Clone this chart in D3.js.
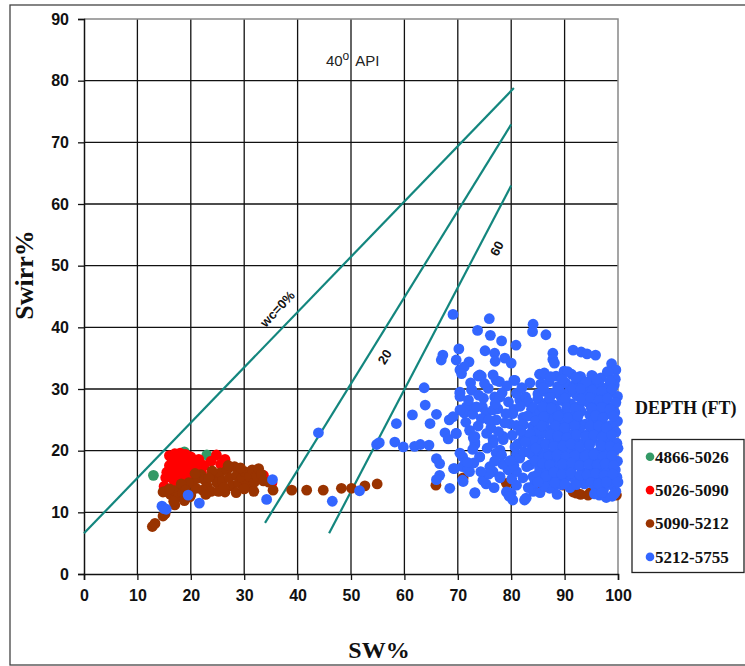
<!DOCTYPE html>
<html>
<head>
<meta charset="utf-8">
<script src="https://cdn.jsdelivr.net/npm/d3@7"></script>
<style>
  body { margin: 0; background: #fff; }
  svg { display: block; }
</style>
</head>
<body>
<div id="chart"></div>
<script>

// depth groups and colours
var groupNames = ["4866-5026", "5026-5090", "5090-5212", "5212-5755"];
var groupColors = ["#339966", "#ff0000", "#993300", "#3366ff"];

var xTicks = [0, 10, 20, 30, 40, 50, 60, 70, 80, 90, 100];
var yTicks = [0, 10, 20, 30, 40, 50, 60, 70, 80, 90];

// water-cut lines, [SW, Swirr]
var wc0Line = [[0, 6.6], [80.5, 78.8]];
var wc20Line = [[33.9, 8.3], [80, 72.9]];
var wc60Line = [[45.9, 6.6], [80, 63.0]];

// 4866-5026
var green = [[13.0, 16.0], [23.0, 19.3], [18.8, 19.8]];

// 5026-5090
var red = [
  [16.0, 19.2], [17.0, 19.5], [18.0, 19.6], [19.0, 19.4], [20.0, 19.0], [16.5, 18.5], [17.5, 18.2],
  [18.5, 18.6], [19.5, 18.3], [20.5, 18.0], [21.5, 17.5], [16.0, 17.6], [17.0, 17.2], [18.0, 17.4],
  [19.0, 17.0], [20.0, 17.2], [21.0, 16.8], [22.0, 16.5], [15.5, 16.5], [16.5, 16.2], [17.5, 16.0],
  [18.5, 15.8], [19.5, 16.1], [15.3, 15.6], [16.8, 15.2], [18.0, 14.8], [19.2, 15.0], [15.0, 14.2],
  [16.0, 13.8], [21.5, 18.6], [22.5, 17.6], [23.8, 18.3], [24.8, 19.3], [26.4, 18.6], [25.6, 17.8],
  [35.2, 14.8], [33.6, 16.0], [17.2, 14.5], [20.6, 15.4]
];

// 5090-5212
var brown = [
  [12.8, 7.7], [13.3, 8.2], [14.8, 9.4], [15.2, 9.8], [17.0, 11.2], [18.6, 12.3], [14.8, 13.3],
  [17.3, 13.3], [15.3, 13.4], [16.2, 12.9], [17.0, 13.5], [17.8, 12.6], [18.5, 13.2], [16.8, 11.8],
  [18.8, 11.9], [19.8, 12.5], [20.3, 14.8], [21.2, 15.5], [21.9, 16.1], [22.6, 15.2], [23.1, 14.2],
  [23.8, 13.4], [22.2, 13.6], [21.0, 13.9], [24.3, 15.9], [24.9, 14.8], [25.5, 16.4], [25.9, 15.1],
  [26.4, 13.3], [26.8, 16.9], [27.2, 15.6], [27.7, 14.3], [28.2, 17.4], [28.6, 16.0], [29.0, 14.8],
  [28.5, 13.2], [29.6, 15.6], [30.1, 16.6], [30.5, 14.4], [31.0, 15.8], [31.5, 16.9], [31.9, 14.9],
  [32.3, 15.9], [32.7, 17.1], [33.2, 16.2], [33.6, 15.1], [31.8, 13.4], [30.0, 13.8], [24.0, 16.7],
  [23.4, 15.6], [20.8, 16.3], [19.6, 14.8], [20.0, 12.8], [34.6, 14.9], [35.4, 13.6], [22.8, 12.9],
  [25.2, 13.4], [27.0, 17.6], [29.3, 17.2], [26.2, 14.0], [18.2, 14.6], [16.0, 13.8], [19.0, 13.6],
  [38.9, 13.6], [41.7, 13.6], [44.8, 13.6], [48.2, 13.9], [50.1, 13.9], [52.6, 14.3], [54.9, 14.6],
  [65.9, 14.4], [71.0, 15.6], [79.1, 14.7], [84.9, 14.4], [86.3, 14.2], [89.7, 14.4], [91.6, 13.3],
  [92.2, 13.1], [93.0, 12.9], [94.4, 12.8], [94.8, 13.2], [99.7, 12.8]
];

// 5212-5755
var blue = [
  // left and scattered points
  [14.6, 11.0], [15.0, 10.6], [15.4, 10.5], [19.5, 12.8], [21.6, 11.5], [34.2, 12.1], [35.3, 15.3],
  [43.9, 22.9], [46.5, 11.8], [51.6, 13.5], [54.8, 21.0], [55.3, 21.3],
  // upper scatter
  [69.1, 42.1], [75.9, 41.4], [84.1, 40.5], [84.0, 39.3], [86.5, 38.8], [73.7, 39.5], [76.1, 38.7],
  [78.2, 37.8], [80.9, 37.1], [70.2, 36.5], [75.1, 36.2], [76.9, 35.8], [67.2, 35.5], [66.9, 34.7],
  [69.7, 34.7], [72.1, 34.4], [77.0, 34.5], [78.8, 35.0], [80.0, 34.2], [87.8, 35.8], [87.8, 34.8],
  [88.1, 34.2], [91.6, 36.3], [93.1, 36.0], [94.2, 35.7], [95.8, 35.5], [98.8, 34.1], [99.6, 33.1],
  [98.0, 32.8], [70.4, 33.1], [71.2, 33.6], [73.8, 32.1], [74.4, 32.1], [77.2, 31.4], [77.8, 31.2],
  [80.5, 31.4], [83.5, 31.0], [85.3, 32.4], [87.2, 31.9], [63.7, 30.2], [70.4, 29.5], [72.6, 29.9],
  [75.7, 30.1], [70.4, 28.8], [76.9, 28.7], [63.9, 27.4], [61.5, 25.8], [58.5, 24.4], [66.0, 25.9],
  [64.8, 24.4], [68.4, 25.0], [71.6, 27.1], [73.1, 27.0], [74.6, 27.1], [77.5, 26.8], [71.2, 26.1],
  [72.8, 25.9], [75.3, 26.2], [79.7, 24.4], [80.5, 26.7], [81.6, 28.2], [82.7, 28.7], [83.8, 26.7],
  [85.0, 29.2], [67.6, 22.9], [69.7, 22.8], [68.2, 21.9], [58.2, 21.4], [59.8, 20.6], [61.9, 20.7],
  [63.0, 21.0], [64.6, 20.9], [73.2, 22.3], [73.2, 21.0], [76.6, 21.8], [77.9, 20.1], [74.1, 19.0],
  [70.9, 19.0], [66.0, 18.7], [66.6, 17.9], [70.9, 17.4], [72.2, 16.6], [69.2, 17.1], [66.6, 16.0],
  [66.0, 15.3], [68.5, 13.9], [73.2, 13.2], [70.9, 15.2], [75.3, 14.6], [76.6, 16.6], [77.9, 15.6],
  [79.1, 13.3], [80.3, 12.0], [82.5, 12.0], [84.1, 13.4], [81.0, 16.6], [83.5, 17.7], [85.8, 16.6],
  [85.2, 19.4], [81.0, 19.4], [78.5, 21.8], [82.7, 21.8], [85.2, 22.3], [87.6, 23.5],
  // middle band 70-85
  [70.7, 32.5], [74.1, 32.3], [76.6, 32.3], [80.7, 31.4], [85.7, 32.3], [70.4, 29.3], [72.6, 29.8],
  [77.9, 28.7], [81.0, 29.3], [83.2, 27.9], [70.4, 26.6], [73.5, 27.1], [76.6, 26.6], [74.4, 25.2],
  [77.2, 25.0], [80.3, 26.0], [81.0, 24.1], [84.1, 25.5], [69.1, 25.5], [69.7, 22.8], [72.2, 23.3],
  [75.4, 22.8], [78.5, 22.3], [73.2, 21.4], [76.6, 21.2], [80.7, 20.6], [83.5, 21.2], [70.4, 19.6],
  [74.1, 19.0], [77.2, 19.6], [81.6, 18.8], [84.7, 18.5], [69.4, 17.1], [71.9, 16.9], [76.0, 17.4],
  [79.4, 16.9], [82.9, 17.4], [86.0, 16.9], [71.0, 15.0], [74.7, 15.2], [77.9, 15.8], [81.0, 14.4],
  [84.4, 14.7], [73.2, 13.1], [80.0, 13.1], [82.8, 12.3], [87.2, 13.9], [88.5, 15.2], [88.6, 17.1],
  [72.0, 28.2], [74.8, 28.5], [77.0, 27.6], [79.5, 27.9], [81.7, 27.2], [71.5, 24.6], [73.8, 24.0],
  [76.2, 23.7], [78.8, 24.5], [80.2, 22.5], [82.3, 22.0], [72.8, 20.2], [75.5, 20.4], [78.2, 19.3],
  [80.5, 17.6], [83.9, 19.3], [73.0, 18.0], [75.8, 16.2], [78.4, 17.8], [82.2, 15.6], [76.8, 14.0],
  [79.6, 12.6], [72.4, 31.0], [75.0, 30.9], [79.2, 30.5], [82.0, 30.2], [78.3, 29.4], [73.9, 29.0],
  [82.2, 25.4], [79.0, 26.0], [75.8, 25.0], [72.9, 22.1], [77.6, 23.1], [81.3, 21.1], [84.0, 23.9],
  [71.8, 18.1], [76.9, 18.3], [79.8, 18.4], [82.4, 19.8], [74.3, 16.6], [80.1, 15.4], [83.2, 14.0],
  [86.8, 15.0], [85.4, 13.2],
  // dense block 84-100
  [86.2, 32.6], [88.4, 32.1], [89.9, 32.9], [91.3, 32.4], [93.0, 32.0], [95.1, 32.2], [96.8, 31.8],
  [98.2, 32.7], [99.5, 31.6], [90.6, 32.8], [92.8, 32.0], [95.3, 32.0],
  [85.5, 30.8], [87.1, 31.2], [88.7, 30.4], [90.2, 31.0], [91.8, 30.6], [93.4, 31.3], [94.9, 30.5],
  [96.4, 30.9], [97.9, 30.2], [99.3, 30.7], [86.3, 29.6],
  [87.8, 29.3], [89.3, 28.8], [90.8, 29.5], [92.3, 28.9], [93.9, 29.7], [95.6, 29.1], [97.1, 28.7],
  [98.6, 29.4], [99.9, 28.8], [85.0, 28.4],
  [86.6, 27.8], [88.1, 27.4], [89.6, 28.1], [91.2, 27.6], [92.7, 27.2], [94.3, 27.9], [95.9, 27.3],
  [97.5, 27.8], [99.0, 27.1], [84.2, 27.0],
  [85.4, 26.3], [87.0, 25.9], [88.5, 26.6], [90.0, 26.1], [91.6, 25.7], [93.1, 26.4], [94.7, 25.8],
  [96.2, 26.5], [97.8, 25.9], [99.4, 26.2], [83.0, 25.6],
  [84.6, 24.8], [86.2, 24.4], [87.7, 25.1], [89.2, 24.6], [90.8, 24.2], [92.4, 24.9], [93.9, 24.3],
  [95.5, 25.0], [97.0, 24.5], [98.6, 24.1], [99.9, 24.8], [82.3, 24.2],
  [85.0, 23.3], [86.6, 22.8], [88.1, 23.5], [89.7, 23.0], [91.3, 22.6], [92.8, 23.4], [94.4, 22.7],
  [96.0, 23.2], [97.5, 22.9], [99.1, 23.6], [83.5, 22.7], [81.8, 23.2],
  [84.2, 21.6], [85.8, 21.2], [87.3, 21.9], [88.9, 21.4], [90.5, 21.0], [92.0, 21.7], [93.6, 21.3],
  [95.2, 21.9], [96.7, 21.1], [98.3, 21.6], [99.8, 21.2], [82.6, 21.4],
  [85.1, 20.0], [86.7, 19.6], [88.2, 20.3], [89.8, 19.8], [91.4, 20.2], [93.0, 19.5], [94.6, 20.1],
  [96.1, 19.7], [97.7, 20.4], [99.3, 19.9], [83.4, 19.7],
  [84.5, 18.4], [86.0, 18.9], [87.6, 18.2], [89.1, 18.7], [90.7, 18.1], [92.3, 18.8], [93.9, 18.3],
  [95.4, 18.9], [97.0, 18.2], [98.6, 18.6], [99.9, 18.3],
  [85.3, 17.2], [86.8, 16.7], [88.4, 17.4], [90.0, 16.9], [91.6, 17.5], [93.2, 16.6], [94.7, 17.1],
  [96.3, 16.8], [97.9, 17.3], [99.5, 16.9],
  [84.1, 15.8], [85.7, 15.3], [87.2, 15.9], [88.8, 15.4], [90.4, 15.7], [92.0, 15.2], [93.5, 15.8],
  [95.1, 15.3], [96.6, 15.9], [98.2, 15.4], [99.8, 15.7],
  [86.2, 14.3], [87.9, 13.9], [89.4, 14.5], [91.0, 14.0], [93.7, 14.6], [95.8, 14.1], [97.3, 13.7],
  [98.9, 14.4], [99.6, 13.4],
  [96.5, 12.8], [97.8, 12.4], [98.9, 12.6], [95.6, 13.0], [88.6, 12.9],
  // extra fill inside the dense block
  [87.4, 32.0], [89.5, 31.6], [92.1, 31.8], [94.0, 31.1], [96.0, 31.6], [98.5, 31.3], [86.0, 30.2],
  [89.0, 29.9], [91.5, 30.0], [93.0, 30.0], [95.2, 29.8], [96.9, 29.6], [98.9, 30.0], [87.2, 28.6],
  [90.1, 28.5], [93.2, 28.4], [94.8, 28.6], [96.5, 28.2], [98.0, 28.5], [99.6, 27.8], [85.9, 27.1],
  [87.5, 26.9], [90.4, 27.0], [92.0, 26.8], [95.0, 26.9], [96.9, 27.0], [98.5, 26.7], [86.1, 25.5],
  [88.8, 25.6], [90.7, 25.3], [92.5, 25.6], [95.8, 25.7], [97.2, 25.3], [99.1, 25.6], [85.7, 24.0],
  [88.3, 24.0], [90.0, 23.7], [91.9, 24.0], [94.8, 24.0], [96.4, 24.0], [97.8, 23.7], [99.6, 23.0],
  [87.4, 22.6], [88.7, 22.4], [90.4, 22.1], [92.2, 22.6], [93.9, 22.3], [95.5, 22.5], [97.0, 22.2],
  [98.8, 22.5], [86.4, 21.0], [88.0, 20.7], [89.7, 20.8], [91.2, 21.1], [92.8, 20.6], [94.7, 21.0],
  [96.9, 20.8], [98.5, 20.7], [100, 20.4], [84.6, 20.4], [87.0, 19.1], [88.6, 19.3], [90.2, 19.0],
  [91.9, 19.2], [93.8, 19.1], [95.5, 19.4], [97.2, 19.0], [98.8, 19.2], [85.9, 17.9], [87.2, 17.7],
  [89.6, 17.8], [91.3, 18.0], [92.8, 17.6], [94.5, 17.8], [96.1, 17.7], [97.6, 17.9], [99.2, 17.6],
  [84.9, 16.1], [86.5, 15.9], [88.0, 16.5], [89.5, 16.2], [91.2, 16.4], [92.9, 16.0], [94.2, 16.1],
  [95.8, 16.3], [97.4, 16.0], [99.0, 16.2], [85.0, 14.9], [88.2, 14.8], [90.0, 14.6], [92.2, 14.5],
  [94.9, 14.8], [96.3, 14.6], [97.8, 14.9], [100, 14.9], [97.0, 13.2], [99.3, 13.0]
];

var groups = [green, red, brown, blue];

var W = 745, H = 666;
var margin = {top: 19, left: 84},
    width = 534,
    height = 555;

var svg = d3.select("#chart").append("svg")
    .attr("width", W)
    .attr("height", H)
    .style("font-family", "Arial, 'Liberation Sans', sans-serif");

// outer chart frame
svg.append("rect")
    .attr("x", 10).attr("y", 5)
    .attr("width", 745).attr("height", 660)
    .attr("fill", "#fff")
    .attr("stroke", "#444")
    .attr("stroke-width", 1.3);

var g = svg.append("g")
    .attr("transform", "translate(" + margin.left + "," + margin.top + ")");

var x = d3.scaleLinear().domain([0, 100]).range([0, width]);
var y = d3.scaleLinear().domain([0, 90]).range([height, 0]);

// grid
g.append("g").selectAll("line")
  .data(xTicks.slice(1, -1))
  .join("line")
    .attr("x1", d => x(d)).attr("x2", d => x(d))
    .attr("y1", 0).attr("y2", height)
    .attr("stroke", "#111").attr("stroke-width", 1.3);
g.append("g").selectAll("line")
  .data(yTicks.slice(1, -1))
  .join("line")
    .attr("x1", 0).attr("x2", width)
    .attr("y1", d => y(d)).attr("y2", d => y(d))
    .attr("stroke", "#111").attr("stroke-width", 1.3);

// plot border (top / right grey)
g.append("path")
    .attr("d", "M0,0H" + width + "V" + height)
    .attr("fill", "none")
    .attr("stroke", "#888")
    .attr("stroke-width", 1.5);

// axes
var xAxis = g.append("g")
    .attr("transform", "translate(0," + height + ")")
    .call(d3.axisBottom(x).tickValues(xTicks).tickSize(6).tickPadding(10));
var yAxis = g.append("g")
    .call(d3.axisLeft(y).tickValues(yTicks).tickSize(6).tickPadding(9));

[xAxis, yAxis].forEach(function(a) {
  a.select(".domain").attr("stroke", "#111").attr("stroke-width", 1.5);
  a.selectAll(".tick line").attr("stroke", "#111").attr("stroke-width", 1.3);
  a.selectAll(".tick text")
    .attr("fill", "#111")
    .style("font-size", "16px")
    .style("font-weight", "bold")
    .style("font-family", "Arial, 'Liberation Sans', sans-serif");
});

// water-cut lines
var line = d3.line().x(d => x(d[0])).y(d => y(d[1]));
[wc0Line, wc20Line, wc60Line].forEach(function(l) {
  g.append("path")
    .datum(l)
    .attr("fill", "none")
    .attr("stroke", "#13867e")
    .attr("stroke-width", 2.2)
    .attr("d", line);
});

// line labels
var lineLabels = [
  {text: "wc=0%", sw: 36.2, sr: 43.0, rot: -47},
  {text: "20", sw: 56.3, sr: 35.2, rot: -58},
  {text: "60", sw: 77.3, sr: 52.8, rot: -62}
];
g.selectAll(".wclabel")
  .data(lineLabels)
  .join("text")
    .attr("class", "wclabel")
    .attr("transform", d => "translate(" + x(d.sw) + "," + y(d.sr) + ") rotate(" + d.rot + ")")
    .attr("text-anchor", "middle")
    .attr("dy", "0.35em")
    .style("font-size", "13px")
    .style("font-weight", "bold")
    .attr("fill", "#111")
    .text(d => d.text);

// 40 API note
var api = g.append("text")
    .attr("x", x(45.3))
    .attr("y", y(82.4))
    .style("font-size", "15px")
    .attr("fill", "#222");
api.append("tspan").text("40");
api.append("tspan").attr("dy", "-6").style("font-size", "12px").text("o");
api.append("tspan").attr("dy", "6").attr("dx", "6").text("API");

// points
groups.forEach(function(pts, i) {
  g.append("g").selectAll("circle")
    .data(pts)
    .join("circle")
      .attr("cx", d => x(d[0]))
      .attr("cy", d => y(d[1]))
      .attr("r", 5.4)
      .attr("fill", groupColors[i]);
});

// axis titles
svg.append("text")
    .attr("transform", "translate(33,275) rotate(-90)")
    .attr("text-anchor", "middle")
    .style("font-family", "'Times New Roman', 'Liberation Serif', serif")
    .style("font-size", "26px")
    .style("font-weight", "bold")
    .attr("fill", "#111")
    .text("Swirr%");

svg.append("text")
    .attr("x", 379)
    .attr("y", 658)
    .attr("text-anchor", "middle")
    .style("font-family", "'Times New Roman', 'Liberation Serif', serif")
    .style("font-size", "24px")
    .style("font-weight", "bold")
    .attr("fill", "#111")
    .text("SW%");

// legend
svg.append("text")
    .attr("x", 635)
    .attr("y", 414)
    .style("font-family", "'Times New Roman', 'Liberation Serif', serif")
    .style("font-size", "18px")
    .style("font-weight", "bold")
    .attr("fill", "#111")
    .text("DEPTH (FT)");

svg.append("rect")
    .attr("x", 632).attr("y", 439.5)
    .attr("width", 112).attr("height", 133)
    .attr("fill", "#fff")
    .attr("stroke", "#222")
    .attr("stroke-width", 1.3);

var leg = svg.append("g").selectAll("g")
  .data(groupNames)
  .join("g")
    .attr("transform", (d, i) => "translate(650," + (456.7 + i * 33.4) + ")");
leg.append("circle")
    .attr("r", 4.3)
    .attr("fill", (d, i) => groupColors[i]);
leg.append("text")
    .attr("x", 5)
    .attr("dy", "0.35em")
    .style("font-family", "'Times New Roman', 'Liberation Serif', serif")
    .style("font-size", "17px")
    .style("font-weight", "bold")
    .attr("fill", "#111")
    .text(d => d);

</script>
</body>
</html>
